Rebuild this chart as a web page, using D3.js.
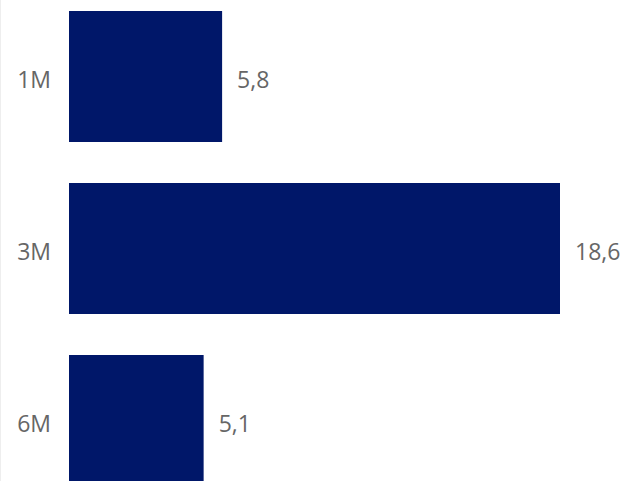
<!DOCTYPE html>
<html>
<head>
<meta charset="utf-8">
<script src="https://cdn.jsdelivr.net/npm/d3@7"></script>
<style>
  html, body { margin: 0; padding: 0; background: #fff; overflow: hidden; }
  svg { display: block; }
</style>
</head>
<body>
<script>
const categories = ["1M", "3M", "6M"];
const values = [5.8, 18.6, 5.1];
const valueLabels = ["5,8", "18,6", "5,1"];

const W = 622, H = 481;
const svg = d3.select("body").append("svg").attr("width", W).attr("height", H);

const x = d3.scaleLinear().domain([0, 18.6]).range([69, 560]);
const y = d3.scaleBand().domain(categories).range([-9.5, 506.5])
  .paddingInner(0.2384).paddingOuter(0.1192);

// faint left axis line
svg.append("line").attr("x1", 0.5).attr("x2", 0.5).attr("y1", 0).attr("y2", H)
  .attr("stroke", "#eeeeee").attr("stroke-width", 1);

const font = "'Segoe UI', 'Open Sans', sans-serif";

svg.selectAll("rect.bar").data(categories).join("rect")
  .attr("class", "bar")
  .attr("x", x(0))
  .attr("y", d => y(d))
  .attr("width", (d, i) => x(values[i]) - x(0))
  .attr("height", y.bandwidth())
  .attr("fill", "#001769");

svg.selectAll("text.cat").data(categories).join("text")
  .attr("class", "cat")
  .attr("x", 51)
  .attr("y", d => y(d) + y.bandwidth() / 2 + 11.5)
  .attr("text-anchor", "end")
  .attr("font-family", font)
  .attr("font-size", 23)
  .attr("fill", "#666666")
  .text(d => d);

svg.selectAll("text.val").data(categories).join("text")
  .attr("class", "val")
  .attr("x", (d, i) => x(values[i]) + 15)
  .attr("y", d => y(d) + y.bandwidth() / 2 + 11.5)
  .attr("text-anchor", "start")
  .attr("font-family", font)
  .attr("font-size", 23)
  .attr("fill", "#666666")
  .text((d, i) => valueLabels[i]);
</script>
</body>
</html>
